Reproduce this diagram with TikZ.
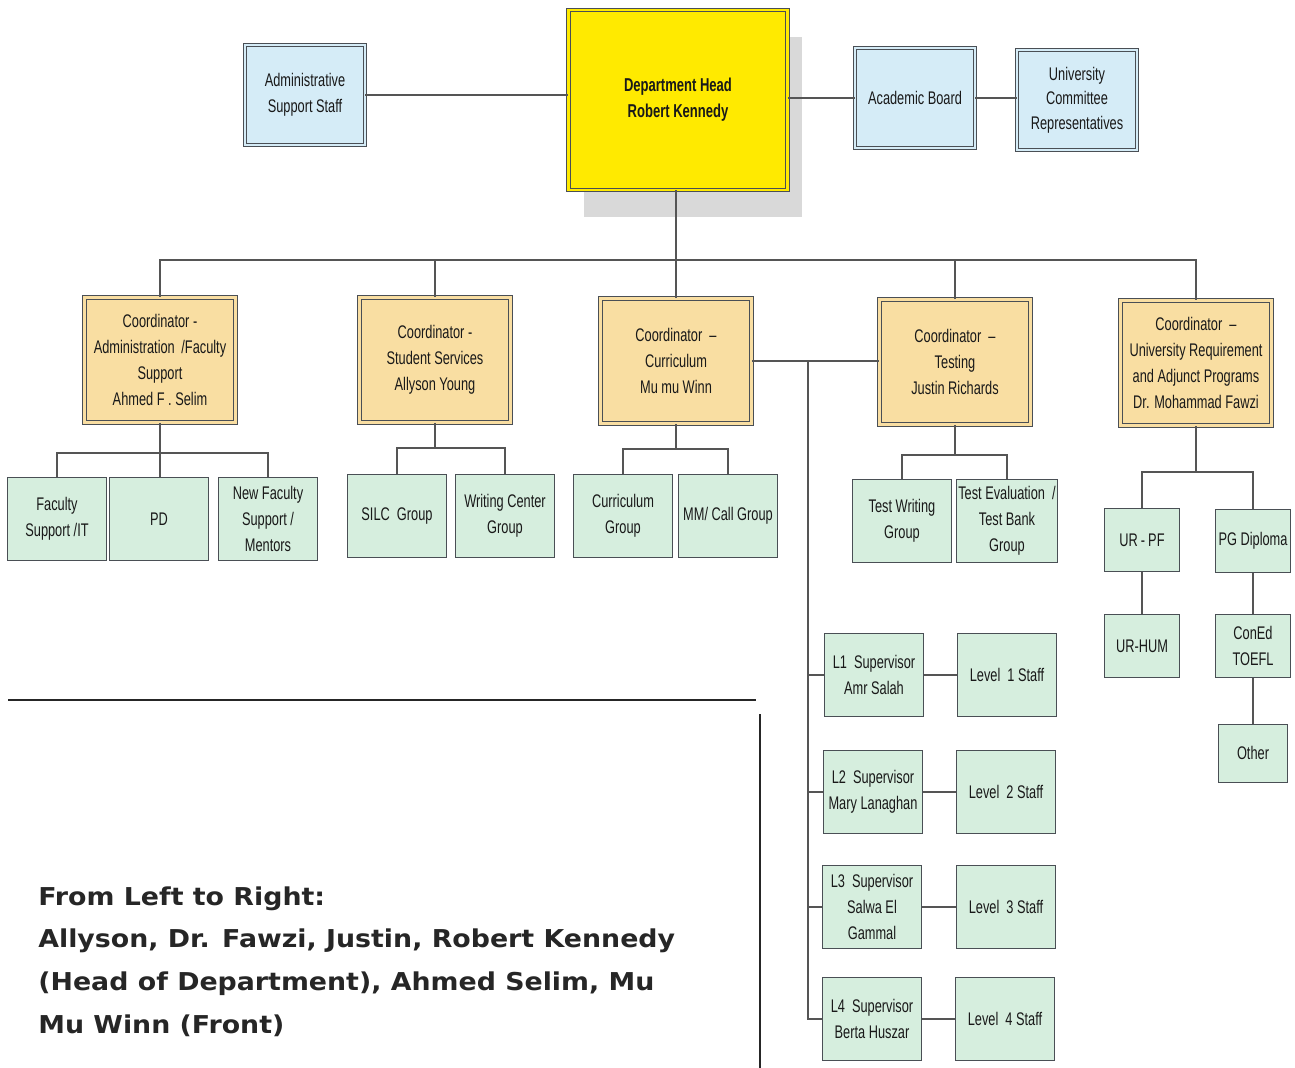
\documentclass[tikz,border=0pt]{standalone}
\usepackage{fontspec}
\setmainfont{Liberation Sans}
\newfontfamily\narrowfont{Liberation Sans}[FakeStretch=0.7]
\newfontfamily\notefont{DejaVu Sans}[FakeStretch=1.09]
\usetikzlibrary{shadows}

\begin{document}
\begin{tikzpicture}[
    x=0.02cm, y=-0.02cm,
    box/.style={
        rectangle, draw=edgeGray, line width=0.5pt, align=center, inner sep=1pt,
        font=\narrowfont\fontsize{10.4}{14.8}\selectfont, text=black!90
    },
    blueBox/.style={box, fill=blue50, double=blue50, double distance=1.5pt,
        minimum width=2.4cm, minimum height=2cm},
    headBox/.style={box, fill=headYellow, double=headYellow, double distance=1.5pt,
        minimum width=4.38cm, minimum height=3.6cm, font=\narrowfont\bfseries\fontsize{10.6}{15}\selectfont,
        general shadow={fill=gray!30, shadow xshift=0.3cm, shadow yshift=-0.54cm}},
    tanBox/.style={box, fill=tan50, double=tan50, double distance=1.5pt,
        minimum width=3.02cm, minimum height=2.5cm},
    greenBox/.style={box, fill=green50, minimum width=1.98cm, minimum height=1.66cm},
    smallBox/.style={greenBox, minimum width=1.5cm, minimum height=1.26cm},
    link/.style={draw=linkGray, line width=0.6pt},
    rule/.style={draw=black!85, line width=1.3pt},
    note/.style={font=\notefont\bfseries\fontsize{14}{24.4}\selectfont, text=black!85,
        align=left, anchor=north west, inner sep=0pt}
]

    \definecolor{blue50}{HTML}{D5ECF7}
    \definecolor{headYellow}{HTML}{FFEA00}
    \definecolor{tan50}{HTML}{F9DEA2}
    \definecolor{green50}{HTML}{D6EEDE}
    \definecolor{edgeGray}{HTML}{4A4F55}
    \definecolor{linkGray}{HTML}{555555}

    \useasboundingbox (0,0) rectangle (1295,1068);

    % top row
    \node[blueBox] (admin) at (305,95) {Administrative\\Support Staff};
    \node[headBox] (head) at (678,100) {Department Head\\Robert Kennedy};
    \node[blueBox] (acad) at (915,98) {Academic Board};
    \node[blueBox, font=\narrowfont\fontsize{10.4}{14}\selectfont] (univ) at (1077,100) {University\\Committee\\Representatives};

    % coordinators
    \node[tanBox] (cAdmin) at (160,360) {Coordinator -\\Administration \,/Faculty\\Support\\Ahmed F . Selim};
    \node[tanBox] (cStud) at (435,360) {Coordinator -\\Student Services\\Allyson Young};
    \node[tanBox] (cCurr) at (676,361) {Coordinator \ –\\Curriculum\\Mu mu Winn};
    \node[tanBox] (cTest) at (955,362) {Coordinator \ –\\Testing\\Justin Richards};
    \node[tanBox] (cUniv) at (1196,363) {Coordinator \ –\\University Requirement\\and Adjunct Programs\\Dr. Mohammad Fawzi};

    % groups
    \node[greenBox] (facIT) at (57,519) {Faculty\\Support /IT};
    \node[greenBox] (pd) at (159,519) {PD};
    \node[greenBox] (newFac) at (268,519) {New Faculty\\Support /\\Mentors};
    \node[greenBox] (silc) at (397,516) {SILC \ Group};
    \node[greenBox] (writing) at (505,516) {Writing Center\\Group};
    \node[greenBox] (currGrp) at (623,516) {Curriculum\\Group};
    \node[greenBox] (mmCall) at (728,516) {MM/ Call Group};
    \node[greenBox] (testWr) at (902,521) {Test Writing\\Group};
    \node[greenBox] (testEv) at (1007,521) {Test Evaluation \ /\\Test Bank\\Group};

    % supervisors
    \node[greenBox] (l1sup) at (874,675) {L1 \ Supervisor\\Amr Salah};
    \node[greenBox] (l1staff) at (1007,675) {Level \ 1 Staff};
    \node[greenBox] (l2sup) at (873,792) {L2 \ Supervisor\\Mary Lanaghan};
    \node[greenBox] (l2staff) at (1006,792) {Level \ 2 Staff};
    \node[greenBox] (l3sup) at (872,907) {L3 \ Supervisor\\Salwa El\\Gammal};
    \node[greenBox] (l3staff) at (1006,907) {Level \ 3 Staff};
    \node[greenBox] (l4sup) at (872,1019) {L4 \ Supervisor\\Berta Huszar};
    \node[greenBox] (l4staff) at (1005,1019) {Level \ 4 Staff};

    % programs
    \node[smallBox] (urpf) at (1142,540) {UR\,-\,PF};
    \node[smallBox] (pgdip) at (1253,541) {PG Diploma};
    \node[smallBox] (urhum) at (1142,646) {UR-HUM};
    \node[smallBox] (coned) at (1253,646) {ConEd\\TOEFL};
    \node[smallBox, minimum width=1.38cm, minimum height=1.16cm] (other) at (1253,753) {Other};

    \coordinate (topBus) at (0,260);
    \coordinate (busAdmin) at (0,453);
    \coordinate (busStud) at (0,448);
    \coordinate (busCurr) at (0,449);
    \coordinate (busTest) at (0,455);
    \coordinate (busUniv) at (0,472);
    \coordinate (spine) at (808,361);

    \draw[link] (admin.east) -- (admin.east -| head.west);
    \draw[link] (head.east |- acad.west) -- (acad.west);
    \draw[link] (acad.east) -- (univ.west |- acad.east);

    \draw[link] (head.south -| cCurr.north) -- (cCurr.north);
    \draw[link] (cAdmin.north) -- (cAdmin.north |- topBus) -- (cUniv.north |- topBus) -- (cUniv.north);
    \foreach \c in {cStud, cTest}
        \draw[link] (\c.north) -- (\c.north |- topBus);

    \draw[link] (cAdmin.south) -- (cAdmin.south |- pd.north);
    \draw[link] (facIT.north) -- (facIT.north |- busAdmin) -- (newFac.north |- busAdmin) -- (newFac.north);
    \draw[link] (cStud.south) -- (cStud.south |- busStud);
    \draw[link] (silc.north) -- (silc.north |- busStud) -- (writing.north |- busStud) -- (writing.north);
    \draw[link] (cCurr.south) -- (cCurr.south |- busCurr);
    \draw[link] (currGrp.north) -- (currGrp.north |- busCurr) -- (mmCall.north |- busCurr) -- (mmCall.north);
    \draw[link] (cTest.south) -- (cTest.south |- busTest);
    \draw[link] (testWr.north) -- (testWr.north |- busTest) -- (testEv.north |- busTest) -- (testEv.north);
    \draw[link] (cUniv.south) -- (cUniv.south |- busUniv);
    \draw[link] (urpf.north) -- (urpf.north |- busUniv) -- (pgdip.north |- busUniv) -- (pgdip.north);
    \draw[link] (urpf.south) -- (urhum.north);
    \draw[link] (pgdip.south) -- (coned.north);
    \draw[link] (coned.south) -- (other.north);

    \draw[link] (cCurr.east) -- (cCurr.east -| cTest.west);
    \draw[link] (spine) |- (l4sup.west);
    \foreach \s in {l1, l2, l3}
        \draw[link] (spine |- \s sup.west) -- (\s sup.west);
    \foreach \s in {l1, l2, l3, l4}
        \draw[link] (\s sup.east) -- (\s staff.west);

    % photo caption
    \draw[rule] (8,700) -- (756,700);
    \draw[rule] (760,714) -- (760,1068);
    \node[note] (caption) at (38,886) {From Left to Right:\\Allyson, Dr. Fawzi, Justin, Robert Kennedy\\(Head of Department), Ahmed Selim, Mu\\Mu Winn (Front)};

\end{tikzpicture}
\end{document}
